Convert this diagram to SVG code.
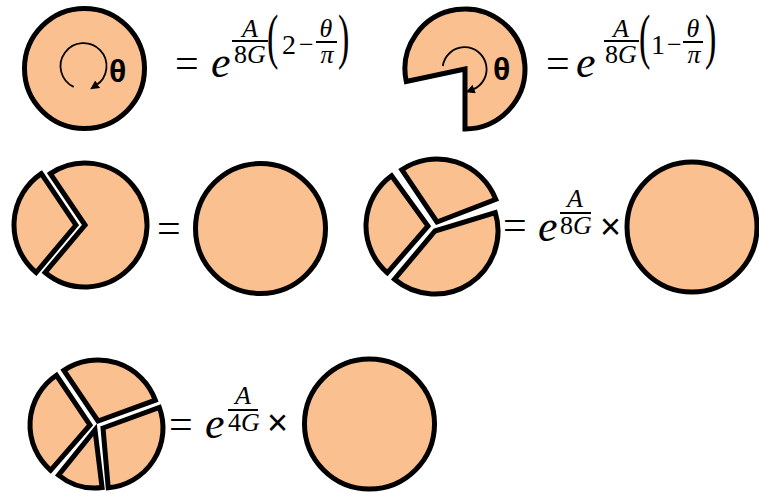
<svg xmlns="http://www.w3.org/2000/svg" width="759" height="493" viewBox="0 0 759 493">
<style>
.pc{fill:#FAC090;stroke:#000;stroke-width:5;stroke-linejoin:miter}
.arc{fill:none;stroke:#000;stroke-width:1.8}
.th{font-family:"Liberation Sans",Arial,sans-serif;font-weight:bold;font-size:32px}
.m{font-family:"Liberation Serif","Times New Roman",serif;fill:#000}
.s{font-family:"Liberation Sans",Arial,sans-serif;fill:#000}
.i{font-style:italic}
.fl{stroke:#000;stroke-width:2}
</style>
<defs>
<marker id="ah" viewBox="0 0 10 10" refX="2" refY="5" markerWidth="9" markerHeight="9" markerUnits="userSpaceOnUse" orient="auto">
<path d="M0,0 L10,5 L0,10 Z" fill="#000"/>
</marker>
</defs>

<g id="n-circle-theta">
<circle class="pc" cx="84.5" cy="68.5" r="60"/>
<path class="arc" d="M73.7,86.9 A23,23 0 1 1 96.2,85.3" marker-end="url(#ah)"/>
<text class="th" x="109" y="82">θ</text>
</g>
<g id="eq1">
<text class="m" x="175" y="77" font-size="42">=</text>
<text class="m i" x="211" y="77" font-size="44">e</text>
<text class="m i" x="250" y="37" font-size="26" text-anchor="middle">A</text>
<line class="fl" x1="232" y1="41" x2="268" y2="41"/>
<text class="m" x="250" y="63" font-size="26" text-anchor="middle">8<tspan class="i">G</tspan></text>
<text class="m" x="267" y="57" font-size="62" transform="translate(267,0) scale(0.55,1) translate(-267,0)">(</text>
<text class="m" x="282" y="54" font-size="28">2</text>
<text class="m" x="299" y="53" font-size="26">−</text>
<text class="m i" x="326" y="37" font-size="26" text-anchor="middle">θ</text>
<line class="fl" x1="316" y1="42" x2="337" y2="42"/>
<text class="m i" x="327" y="63" font-size="26" text-anchor="middle">π</text>
<text class="m" x="338" y="57" font-size="62" transform="translate(338,0) scale(0.55,1) translate(-338,0)">)</text>
</g>

<g id="n-pacman-theta">
<path class="pc" d="M465,69 L406.3,81.5 A60,60 0 1 1 465,129 Z"/>
<path class="arc" d="M442.8,66 A22,22 0 1 1 472.5,89.7" marker-end="url(#ah)"/>
<text class="th" x="493" y="80">θ</text>
</g>
<g id="eq2">
<text class="m" x="546" y="77" font-size="42">=</text>
<text class="m i" x="576" y="77" font-size="44">e</text>
<text class="m i" x="621" y="37" font-size="26" text-anchor="middle">A</text>
<line class="fl" x1="604" y1="41" x2="639" y2="41"/>
<text class="m" x="621" y="63" font-size="26" text-anchor="middle">8<tspan class="i">G</tspan></text>
<text class="m" x="639" y="57" font-size="62" transform="translate(639,0) scale(0.55,1) translate(-639,0)">(</text>
<text class="m" x="651" y="54" font-size="28">1</text>
<text class="m" x="667" y="53" font-size="26">−</text>
<text class="m i" x="693" y="37" font-size="26" text-anchor="middle">θ</text>
<line class="fl" x1="683" y1="42" x2="703" y2="42"/>
<text class="m i" x="694" y="63" font-size="26" text-anchor="middle">π</text>
<text class="m" x="705" y="57" font-size="62" transform="translate(705,0) scale(0.55,1) translate(-705,0)">)</text>
</g>

<g id="n-two-piece">
<path class="pc" d="M85,225 L50.33,173.6 A62,62 0 1 1 45.15,272.49 Z"/>
<path class="pc" d="M76,225 L36.15,272.49 A62,62 0 0 1 41.33,173.6 Z"/>
</g>
<g id="eq3">
<text class="m" x="157" y="242" font-size="42">=</text>
</g>
<g id="n-circle-2">
<circle class="pc" cx="260.5" cy="228.5" r="65"/>
</g>

<g id="n-three-piece">
<path class="pc" d="M428,226 L387.32,272.79 A62,62 0 0 1 391.56,175.84 Z"/>
<path class="pc" d="M437,222 L401.77,169.77 A63,63 0 0 1 495.81,199.42 Z"/>
<path class="pc" d="M435,231 L495.25,212.58 A63,63 0 0 1 394.5,279.26 Z"/>
</g>
<g id="eq4">
<text class="m" x="503" y="239" font-size="42">=</text>
<text class="m i" x="538" y="241" font-size="44">e</text>
<text class="m i" x="575" y="207" font-size="26" text-anchor="middle">A</text>
<line class="fl" x1="560" y1="213" x2="591" y2="213"/>
<text class="m" x="576" y="234" font-size="26" text-anchor="middle">8<tspan class="i">G</tspan></text>
<text class="s" x="600" y="239" font-size="36">×</text>
</g>
<g id="n-circle-3">
<circle class="pc" cx="692" cy="227" r="65"/>
</g>

<g id="n-four-piece">
<path class="pc" d="M90,425 L50.63,470.28 A60,60 0 0 1 56.45,375.26 Z"/>
<path class="pc" d="M98,421 L63.89,370.43 A61,61 0 0 1 155.32,400.14 Z"/>
<path class="pc" d="M103,428 L159.38,407.48 A60,60 0 0 1 108.23,487.77 Z"/>
<path class="pc" d="M95,430 L102.07,487.57 A58,58 0 0 1 58.5,475.07 Z"/>
</g>
<g id="eq5">
<text class="m" x="169" y="438" font-size="42">=</text>
<text class="m i" x="205" y="438" font-size="44">e</text>
<text class="m i" x="243" y="404" font-size="26" text-anchor="middle">A</text>
<line class="fl" x1="228" y1="410" x2="258" y2="410"/>
<text class="m" x="244" y="431" font-size="26" text-anchor="middle">4<tspan class="i">G</tspan></text>
<text class="s" x="267" y="435" font-size="36">×</text>
</g>
<g id="n-circle-4">
<circle class="pc" cx="369.5" cy="424" r="65"/>
</g>
<g id="connectors"/>
</svg>
